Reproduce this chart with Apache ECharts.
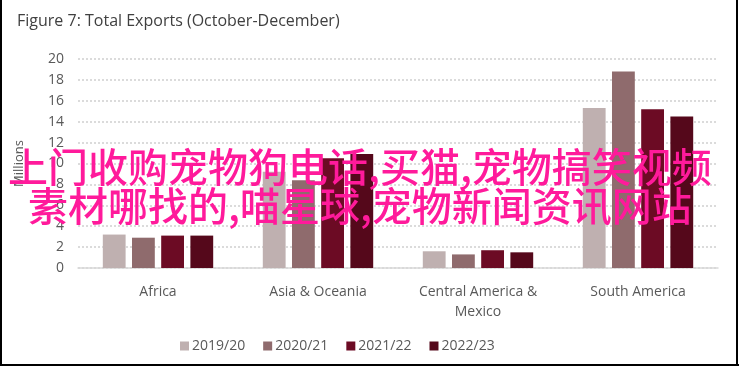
<!DOCTYPE html>
<html>
<head>
<meta charset="utf-8">
<script src="https://cdn.jsdelivr.net/npm/echarts@6/dist/echarts.min.js"></script>
<style>
html,body{margin:0;padding:0;background:#fff;}
#chart{width:739px;height:367px;}
</style>
</head>
<body>
<div id="chart"></div>
<script>
const categories = ['Africa', 'Asia & Oceania', 'Central America & Mexico', 'South America'];
const seriesNames = ['2019/20', '2020/21', '2021/22', '2022/23'];
const v2019 = [3.2, 9.2, 1.6, 15.3];
const v2020 = [2.9, 8.4, 1.3, 18.8];
const v2021 = [3.1, 10.5, 1.7, 15.2];
const v2022 = [3.1, 10.9, 1.5, 14.5];
const yTicks = [0, 2, 4, 6, 8, 10, 12, 14, 16, 18, 20];
const titleText = 'Figure 7: Total Exports (October-December)';
const overlayLines = ['上门收购宠物狗电话,买猫,宠物搞笑视频', '素材哪找的,喵星球,宠物新闻资讯网站'];
const colors = ['#bfb0b0', '#8f6b6d', '#6c0b24', '#55081b'];

const values = [v2019, v2020, v2021, v2022];
const font = '"Open Sans", sans-serif';
const chart = echarts.init(document.getElementById('chart'), null, {renderer: 'canvas'});
chart.setOption({
  animation: false,
  backgroundColor: '#fff',
  title: {
    text: titleText, left: 12, top: 8,
    textStyle: {fontFamily: font, fontSize: 16, fontWeight: 'normal', color: '#404040'}
  },
  legend: {
    data: seriesNames, left: 175, top: 334, icon: 'rect', itemWidth: 9, itemHeight: 9, itemGap: 18,
    textStyle: {fontFamily: font, fontSize: 14, color: '#595959', padding: [0, 0, 0, -2]}
  },
  grid: {left: 78, right: 21, top: 59, bottom: 99},
  xAxis: {
    type: 'category', data: categories,
    axisLine: {lineStyle: {color: '#d9d9d9', width: 1.5}},
    axisTick: {show: false},
    axisLabel: {
      fontFamily: font, fontSize: 14, color: '#595959', margin: 14, lineHeight: 20,
      formatter: v => v.replace(' & Mexico', ' &\nMexico')
    }
  },
  yAxis: {
    type: 'value', min: yTicks[0], max: yTicks[yTicks.length - 1], interval: yTicks[1] - yTicks[0],
    name: 'Millions', nameLocation: 'middle', nameGap: 52, nameRotate: 90,
    nameTextStyle: {fontFamily: font, fontSize: 13, color: '#595959'},
    axisLine: {show: false}, axisTick: {show: false},
    axisLabel: {fontFamily: font, fontSize: 14, color: '#595959', margin: 14},
    splitLine: {lineStyle: {color: '#d0d0d0', width: 1.5, type: [2, 2]}}
  },
  series: seriesNames.map((n, i) => ({
    name: n, type: 'bar', data: values[i],
    barGap: '28%', barCategoryGap: '31%',
    itemStyle: {color: colors[i]}
  })),
  color: colors,
  graphic: [
    {type: 'line', shape: {x1: 1, y1: 0, x2: 1, y2: 365}, style: {stroke: '#000', lineWidth: 2}, z: 100},
    {type: 'line', shape: {x1: 737, y1: 0, x2: 737, y2: 365}, style: {stroke: '#000', lineWidth: 2}, z: 100},
    {type: 'line', shape: {x1: 0, y1: 365, x2: 739, y2: 365}, style: {stroke: '#000', lineWidth: 2}, z: 100},
    {type: 'text', left: 8, top: 147, z: 100,
      style: {text: overlayLines[0], fontFamily: '"Noto Sans CJK SC"', fontSize: 40, fontWeight: 500, fill: '#ff1a9b'}},
    {type: 'text', left: 28, top: 186, z: 100,
      style: {text: overlayLines[1], fontFamily: '"Noto Sans CJK SC"', fontSize: 40, fontWeight: 500, fill: '#ff1a9b'}}
  ]
});
</script>
</body>
</html>
